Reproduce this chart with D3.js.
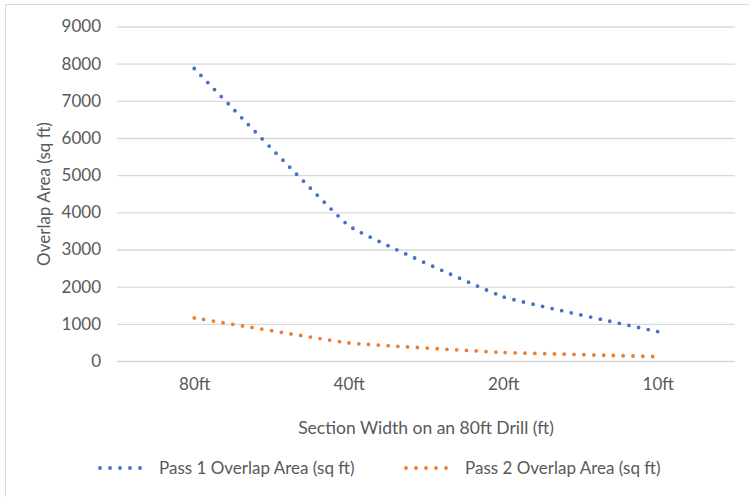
<!DOCTYPE html>
<html><head><meta charset="utf-8">
<script src="https://cdn.jsdelivr.net/npm/d3@7"></script>
<style>
body{margin:0;background:#fff;}
text{font-family:Lato,"Open Sans",sans-serif;fill:#595959;}
</style></head>
<body><svg id="c" width="749" height="497"></svg>
<script>
const categories = ["80ft","40ft","20ft","10ft"];
const pass1 = [7870, 3640, 1725, 790];
const pass2 = [1160, 485, 230, 117];
const yTicks = [0,1000,2000,3000,4000,5000,6000,7000,8000,9000];
const seriesNames = ["Pass 1 Overlap Area (sq ft)","Pass 2 Overlap Area (sq ft)"];
const colors = ["#4472C4","#ED7D31"];

const svg = d3.select("#c");
svg.append("rect").attr("x",5.5).attr("y",4.5).attr("width",760).attr("height",520)
  .attr("fill","#fff").attr("stroke","#d9d9d9").attr("stroke-width",1);

const m = {l:117, r:735, t:26.5, b:361};
const x = d3.scalePoint().domain(categories).range([m.l, m.r]).padding(0.5);
const y = d3.scaleLinear().domain([0,9000]).range([m.b, m.t]);

const gy = svg.append("g").attr("transform",`translate(${m.l},0)`)
  .call(d3.axisLeft(y).tickValues(yTicks).tickSize(-(m.r-m.l)).tickPadding(16).tickFormat(d3.format("d")));
gy.select(".domain").remove();
gy.selectAll(".tick line").attr("stroke","#d9d9d9").attr("stroke-width",1.3);
gy.selectAll(".tick text").attr("font-size",17).attr("fill","#595959").style("font-family","Lato");

const gx = svg.append("g").attr("transform",`translate(0,${m.b})`)
  .call(d3.axisBottom(x).tickSize(0).tickPadding(17));
gx.select(".domain").remove();
gx.selectAll(".tick text").attr("font-size",17).attr("fill","#595959").style("font-family","Lato");

const line = d3.line().x((d,i)=>x(categories[i])).y(d=>y(d)).curve(d3.curveCardinal.tension(0.75));
[pass1,pass2].forEach((s,k)=>{
  svg.append("path").attr("d",line(s)).attr("fill","none").attr("stroke",colors[k])
    .attr("stroke-width",3.8).attr("stroke-linecap","round").attr("stroke-dasharray","0,9.8");
});

svg.append("text").attr("transform","translate(50,194) rotate(-90)").attr("text-anchor","middle")
  .attr("font-size",17).text("Overlap Area (sq ft)");
svg.append("text").attr("x",426).attr("y",434).attr("text-anchor","middle")
  .attr("font-size",17.5).text("Section Width on an 80ft Drill (ft)");

const legX = [100, 406];
seriesNames.forEach((n,k)=>{
  svg.append("line").attr("x1",legX[k]).attr("x2",legX[k]+50).attr("y1",468).attr("y2",468)
    .attr("stroke",colors[k]).attr("stroke-width",3.8).attr("stroke-linecap","round").attr("stroke-dasharray","0,10");
  svg.append("text").attr("x",legX[k]+59).attr("y",474).attr("font-size",17).text(n);
});
</script></body></html>
